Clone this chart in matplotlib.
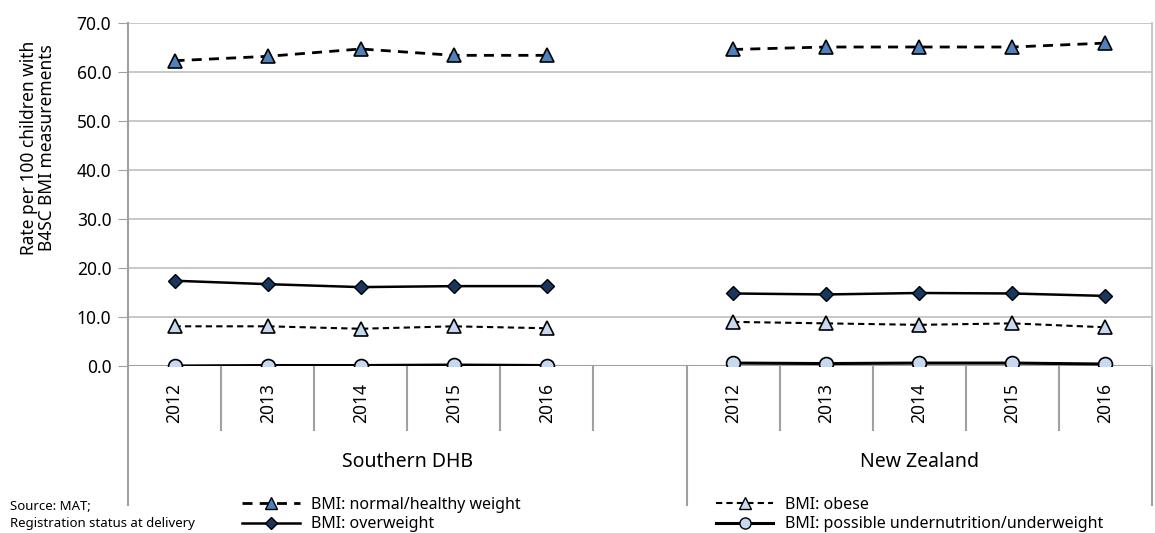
import numpy as np
import matplotlib.pyplot as plt
from matplotlib.lines import Line2D

plt.rcParams['font.family'] = ['Noto Sans', 'DejaVu Sans']

groups = ['Southern DHB', 'New Zealand']
years = ['2012', '2013', '2014', '2015', '2016']

normal = [[62.3, 63.2, 64.7, 63.4, 63.4], [64.6, 65.1, 65.1, 65.1, 65.9]]
overweight = [[17.4, 16.7, 16.1, 16.3, 16.3], [14.8, 14.6, 14.9, 14.8, 14.3]]
obese = [[8.1, 8.1, 7.6, 8.1, 7.7], [9.0, 8.7, 8.4, 8.7, 7.9]]
underweight = [[0.0, 0.1, 0.1, 0.2, 0.1], [0.6, 0.5, 0.6, 0.6, 0.4]]

# slots: 5 years, one blank, 5 years
pos = np.arange(11)


def series(vals):
    return np.array(vals[0] + [np.nan] + vals[1], dtype=float)


W, H = 1155, 533
fig = plt.figure(figsize=(W / 100, H / 100), dpi=100)
ax = fig.add_axes([128 / W, 1 - 366 / H, (1152 - 128) / W, (366 - 23) / H])
ah = 366 - 23

grid_c = '#BFBFBF'
axis_c = '#A0A0A0'

ax.set_xlim(-0.5, 10.5)
ax.set_ylim(0, 70)
ax.set_yticks(np.arange(0, 71, 10))
ax.set_yticklabels([f'{v:.1f}' for v in np.arange(0, 71, 10)], fontsize=12.5)
ax.tick_params(axis='y', length=7, color=axis_c, pad=5)
ax.set_xticks([])
ax.yaxis.grid(True, color=grid_c, lw=1.2)
ax.set_axisbelow(True)
for s in ['top', 'bottom']:
    ax.spines[s].set_visible(False)
ax.spines['left'].set_color(axis_c)
ax.spines['left'].set_linewidth(1.5)
ax.spines['right'].set_color(grid_c)
ax.spines['right'].set_linewidth(1.2)
ax.axhline(0, color=axis_c, lw=1.5, zorder=1)

ax.set_ylabel('Rate per 100 children with\nB4SC BMI measurements', fontsize=12.5,
              va='center', linespacing=1.0)
ax.yaxis.set_label_coords((38 - 128) / 1024, (366 - 148) / ah)

ax.plot(pos, series(normal), color='black', lw=2.0, dashes=(3.6, 2.6),
        marker='^', ms=10, mfc='#4F81BD', mec='black', mew=1.2, zorder=3)
ax.plot(pos, series(overweight), color='black', lw=1.8,
        marker='D', ms=7, mfc='#17375E', mec='black', mew=1.0, zorder=3)
ax.plot(pos, series(obese), color='black', lw=1.5, dashes=(3, 2),
        marker='^', ms=10, mfc='#C6D9F1', mec='black', mew=1.2, zorder=3)
ax.plot(pos, series(underweight), color='black', lw=2.2,
        marker='o', ms=10, mfc='#C6D9F1', mec='black', mew=1.2, zorder=3)

# category axis below the plot
trans = ax.get_xaxis_transform()
y_short = -(430 - 366) / ah
y_long = -(505 - 366) / ah
for g in range(2):
    for i, yr in enumerate(years):
        x = g * 6 + i
        ax.text(x, -(383 - 366) / ah, yr, transform=trans, rotation=90,
                ha='center', va='top', fontsize=12.5)
for x in [0.5, 1.5, 2.5, 3.5, 4.5, 6.5, 7.5, 8.5, 9.5]:
    ax.plot([x, x], [0, y_short], transform=trans, color=axis_c, lw=1.5, clip_on=False)
for x in [-0.5, 5.5, 10.5]:
    ax.plot([x, x], [0, y_long], transform=trans, color=axis_c, lw=1.5, clip_on=False)
ax.text(2.5, -(462 - 366) / ah, groups[0], transform=trans,
        ha='center', va='center', fontsize=14)
ax.text(8.0, -(462 - 366) / ah, groups[1], transform=trans,
        ha='center', va='center', fontsize=14)

# source note
fig.text(10 / W, 1 - 506 / H, 'Source: MAT;', fontsize=9.5, va='center')
fig.text(10 / W, 1 - 524 / H, 'Registration status at delivery', fontsize=9.5, va='center')

h_normal = Line2D([], [], color='black', lw=2.0, dashes=(3.6, 2.6), marker='^', ms=8,
                  mfc='#4F81BD', mec='black', mew=1.0)
h_over = Line2D([], [], color='black', lw=1.8, marker='D', ms=6,
                mfc='#17375E', mec='black', mew=1.0)
h_obese = Line2D([], [], color='black', lw=1.5, dashes=(3, 2), marker='^', ms=8,
                 mfc='#C6D9F1', mec='black', mew=1.0)
h_under = Line2D([], [], color='black', lw=2.2, marker='o', ms=8,
                 mfc='#C6D9F1', mec='black', mew=1.0)

leg_kw = dict(frameon=False, fontsize=11.5, handlelength=3.6, handletextpad=0.7,
              labelspacing=0.2, borderpad=0, borderaxespad=0, loc='upper left')
leg1 = fig.legend([h_normal, h_over], ['BMI: normal/healthy weight', 'BMI: overweight'],
                  bbox_to_anchor=(242 / W, 1 - 497 / H), **leg_kw)
leg2 = fig.legend([h_obese, h_under], ['BMI: obese', 'BMI: possible undernutrition/underweight'],
                  bbox_to_anchor=(716 / W, 1 - 497 / H), **leg_kw)

fig.savefig('out.png', dpi=100)
